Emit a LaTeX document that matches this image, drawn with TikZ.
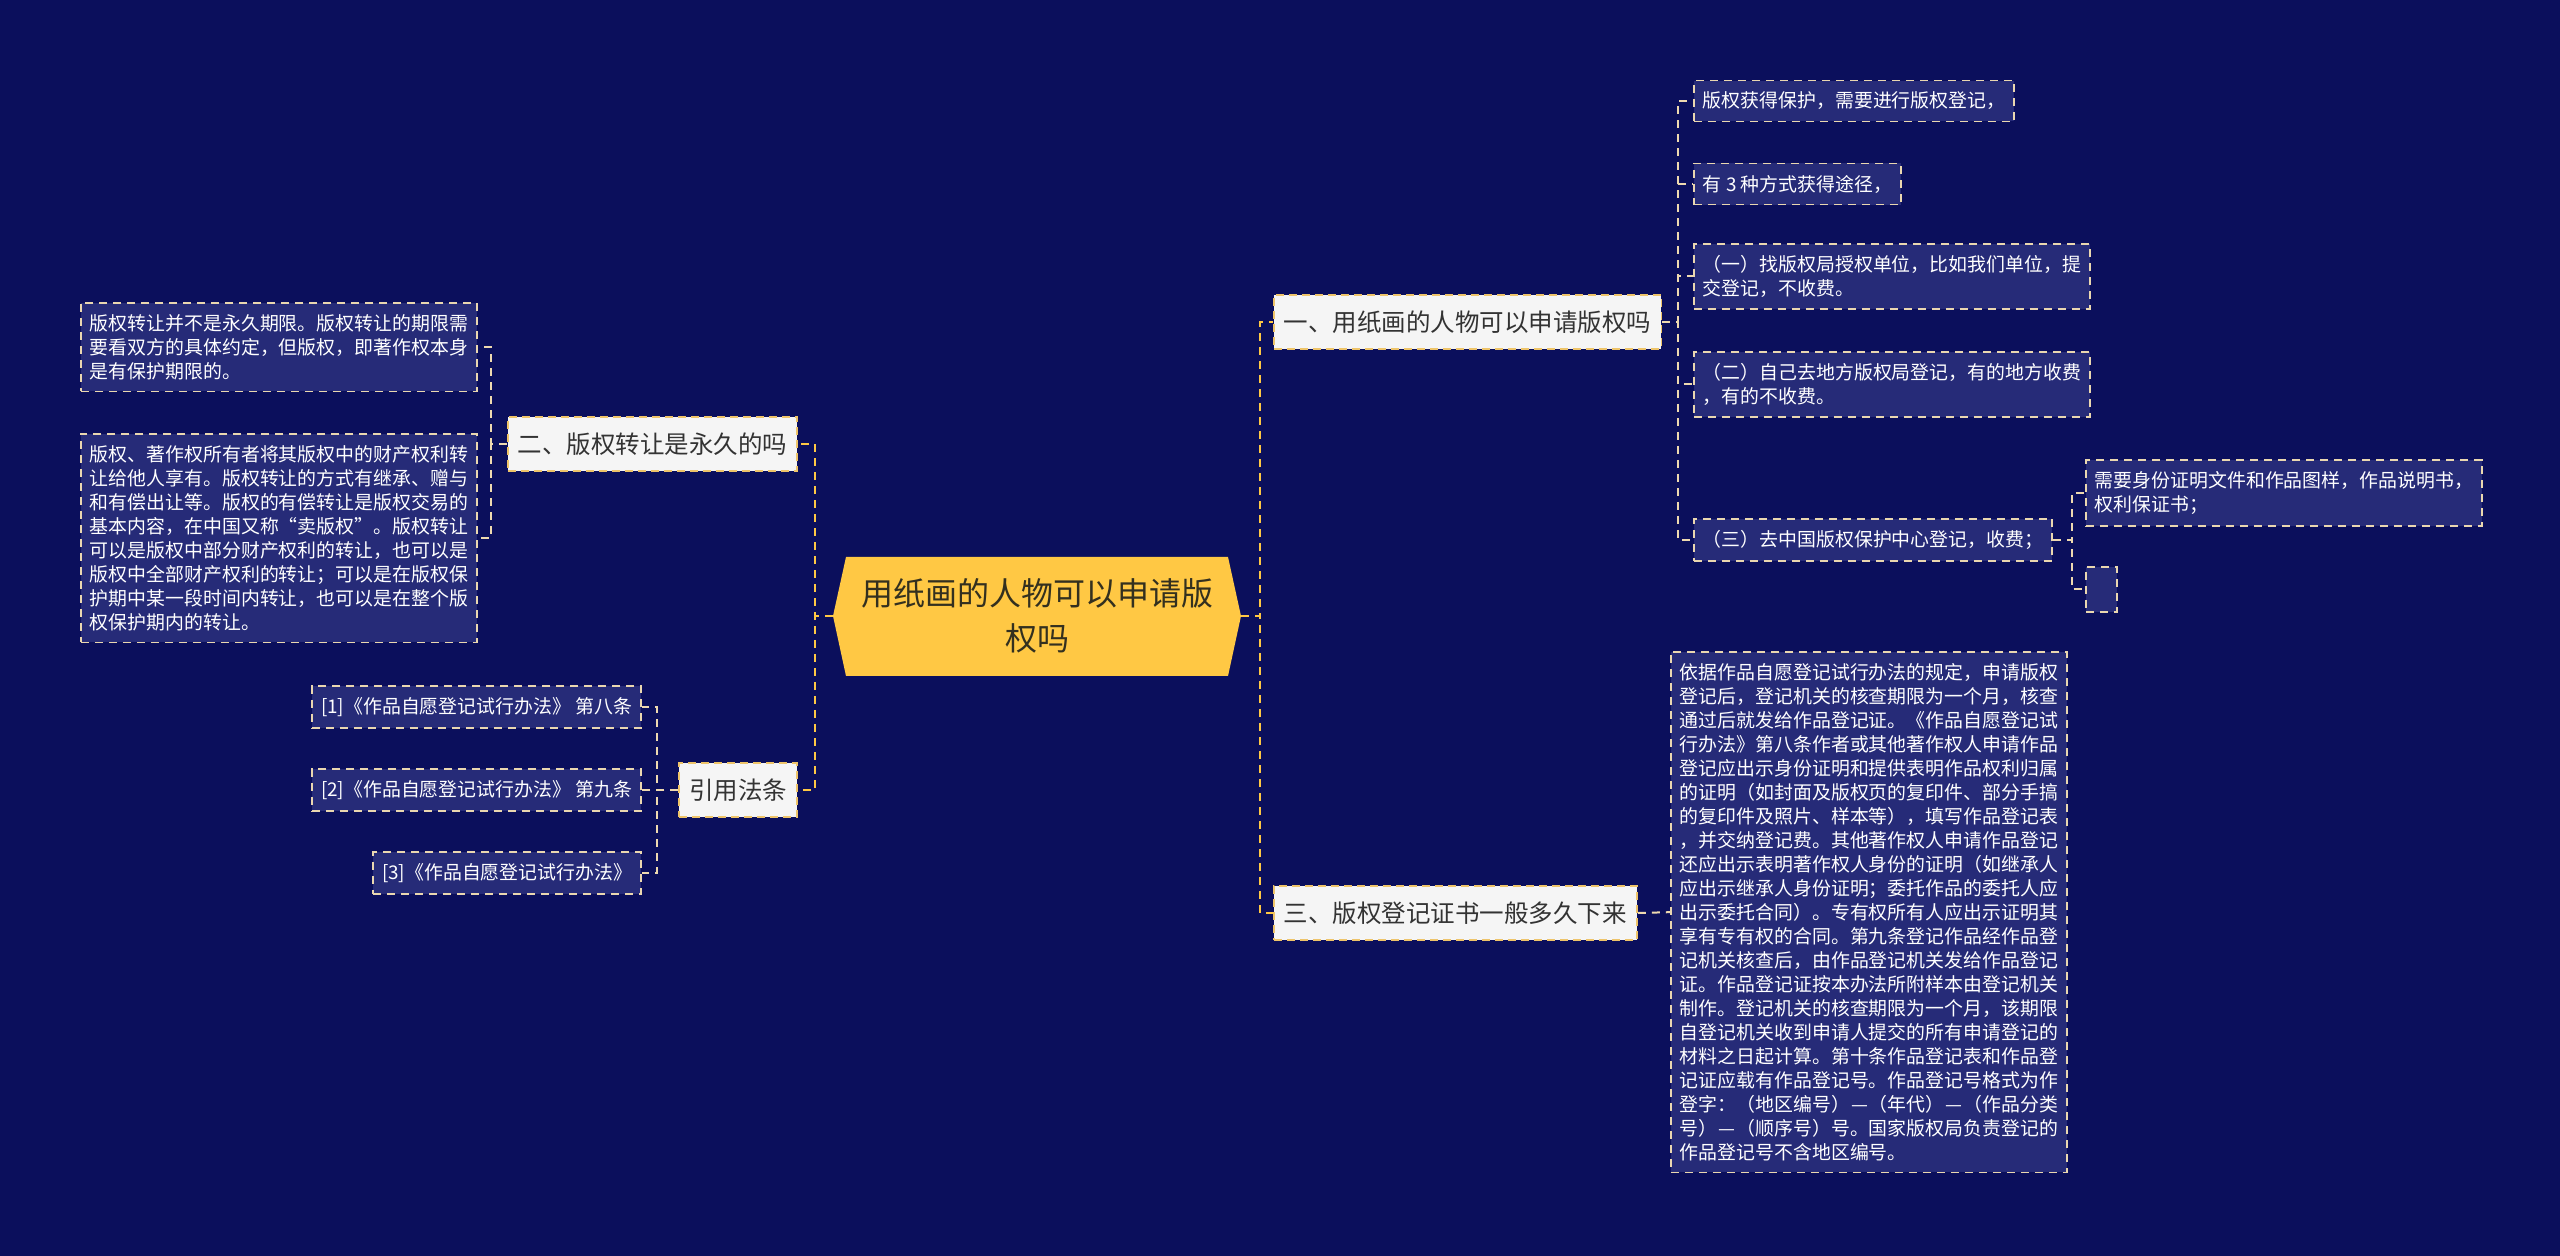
\documentclass[tikz,border=0pt]{standalone}
\usepackage{fontspec}
\newfontfamily\cjk{Noto Sans CJK SC}
\usetikzlibrary{calc}
\definecolor{bgcol}{HTML}{0B0F5C}
\definecolor{hubcol}{HTML}{FFC844}
\definecolor{hubtext}{HTML}{33301F}
\definecolor{topicfill}{HTML}{F5F5F5}
\definecolor{topicline}{HTML}{EEC46A}
\definecolor{topictext}{HTML}{333333}
\definecolor{leaffill}{HTML}{262B78}
\definecolor{leafline}{HTML}{EAD7B0}
\definecolor{linkcol}{HTML}{EED9B0}
\newcommand{\wdash}{\makebox[1em]{—}}
\newcommand{\wq}[1]{\makebox[1em][r]{“}#1\makebox[1em][l]{”}}

\begin{document}
\begin{tikzpicture}[
    x=0.5pt, y=-0.5pt,
    every node/.style={font=\cjk},
    hub/.style={
        align=center, text=hubtext, inner sep=0pt,
        font=\cjk\fontsize{16pt}{22.5pt}\selectfont,
        minimum width=204pt, minimum height=59.5pt,
    },
    topic/.style={
        fill=topicfill, draw=topicline, line width=0.9pt,
        dash pattern=on 4pt off 2.5pt, text=topictext,
        font=\cjk\fontsize{12.25pt}{15pt}\selectfont,
        inner xsep=5pt, minimum height=27pt,
    },
    leaf/.style={
        fill=leaffill, draw=leafline, line width=0.9pt,
        dash pattern=on 4pt off 3pt, text=white, align=left,
        font=\cjk\fontsize{9.45pt}{12pt}\selectfont,
        inner xsep=4.5pt, inner ysep=5.75pt,
    },
    hublink/.style={draw=hubcol, line width=1pt, dash pattern=on 4pt off 3pt},
    link/.style={draw=linkcol, line width=1pt, dash pattern=on 4pt off 3pt},
]

\fill[bgcol] (0,0) rectangle (2560,1256);
\useasboundingbox (0,0) rectangle (2560,1256);

% === Central topic ===
\fill[hubcol] (833,616) -- (846,557) -- (1228,557) -- (1241,616)
    -- (1228,676) -- (846,676) -- cycle;
\node[hub] (root) at (1037,616) {用纸画的人物可以申请版\\权吗};

% === First-level topics ===
\node[topic, anchor=west] (q1) at (1273,322) {一、用纸画的人物可以申请版权吗};
\node[topic, anchor=east] (q2) at (798,444) {二、版权转让是永久的吗};
\node[topic, anchor=west] (q3) at (1273,913) {三、版权登记证书一般多久下来};
\node[topic, anchor=east] (law) at (798,790) {引用法条};

% === Leaves of q1 ===
\node[leaf, anchor=west] (q1a) at (1693,101) {版权获得保护，需要进行版权登记，};
\node[leaf, anchor=west] (q1b) at (1693,184) {有 3 种方式获得途径，};
\node[leaf, anchor=north west] (q1c) at (1693,243) {（一）找版权局授权单位，比如我们单位，提\\
    交登记，不收费。};
\node[leaf, anchor=north west] (q1d) at (1693,351) {（二）自己去地方版权局登记，有的地方收费\\
    ，有的不收费。};
\node[leaf, anchor=west] (q1e) at (1693,540) {（三）去中国版权保护中心登记，收费；};
\node[leaf, anchor=north west] (q1e1) at (2085,459) {需要身份证明文件和作品图样，作品说明书，\\
    权利保证书；};
\node[leaf, anchor=north west, minimum width=15.5pt, minimum height=22.5pt] (q1e2) at (2085,566) {};

% === Leaves of q2 ===
\node[leaf, anchor=north west] (q2a) at (80,302) {版权转让并不是永久期限。版权转让的期限需\\
    要看双方的具体约定，但版权，即著作权本身\\
    是有保护期限的。};
\node[leaf, anchor=north west] (q2b) at (80,433) {版权、著作权所有者将其版权中的财产权利转\\
    让给他人享有。版权转让的方式有继承、赠与\\
    和有偿出让等。版权的有偿转让是版权交易的\\
    基本内容，在中国又称\wq{卖版权}。版权转让\\
    可以是版权中部分财产权利的转让，也可以是\\
    版权中全部财产权利的转让；可以是在版权保\\
    护期中某一段时间内转让，也可以是在整个版\\
    权保护期内的转让。};

% === Cited articles ===
\node[leaf, anchor=east] (law1) at (642,707) {[1]《作品自愿登记试行办法》 第八条};
\node[leaf, anchor=east] (law2) at (642,790) {[2]《作品自愿登记试行办法》 第九条};
\node[leaf, anchor=east] (law3) at (642,873) {[3]《作品自愿登记试行办法》};

% === Leaf of q3 ===
\node[leaf, anchor=north west] (q3a) at (1670,651) {依据作品自愿登记试行办法的规定，申请版权\\
    登记后，登记机关的核查期限为一个月，核查\\
    通过后就发给作品登记证。《作品自愿登记试\\
    行办法》第八条作者或其他著作权人申请作品\\
    登记应出示身份证明和提供表明作品权利归属\\
    的证明（如封面及版权页的复印件、部分手搞\\
    的复印件及照片、样本等），填写作品登记表\\
    ，并交纳登记费。其他著作权人申请作品登记\\
    还应出示表明著作权人身份的证明（如继承人\\
    应出示继承人身份证明；委托作品的委托人应\\
    出示委托合同）。专有权所有人应出示证明其\\
    享有专有权的合同。第九条登记作品经作品登\\
    记机关核查后，由作品登记机关发给作品登记\\
    证。作品登记证按本办法所附样本由登记机关\\
    制作。登记机关的核查期限为一个月，该期限\\
    自登记机关收到申请人提交的所有申请登记的\\
    材料之日起计算。第十条作品登记表和作品登\\
    记证应载有作品登记号。作品登记号格式为作\\
    登字：（地区编号）\wdash（年代）\wdash（作品分类\\
    号）\wdash（顺序号）号。国家版权局负责登记的\\
    作品登记号不含地区编号。};

% === Connectors ===
\draw[hublink] (root.east) -- ++(19,0) |- (q1.west);
\draw[hublink] (root.east) -- ++(19,0) |- (q3.west);
\draw[hublink] (root.west) -- ++(-18,0) |- (q2.east);
\draw[hublink] (root.west) -- ++(-18,0) |- (law.east);

\foreach \leafname in {q1a,q1b,q1c,q1d,q1e}
    \draw[link] (q1.east) -- ++(16,0) |- (\leafname.west);
\foreach \leafname in {q1e1,q1e2}
    \draw[link] (q1e.east) -- ++(19,0) |- (\leafname.west);
\foreach \leafname in {q2a,q2b}
    \draw[link] (q2.west) -- ++(-16,0) |- (\leafname.east);
\foreach \leafname in {law1,law2,law3}
    \draw[link] (law.west) -- ++(-21,0) |- (\leafname.east);
\draw[link] (q3.east) -- (q3a.west);

\end{tikzpicture}
\end{document}
